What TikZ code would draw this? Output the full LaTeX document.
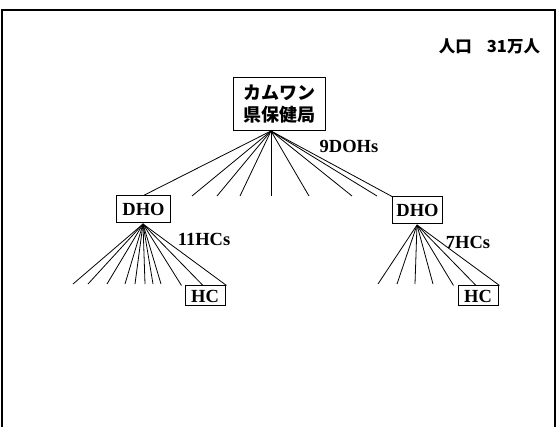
\documentclass[tikz,border=0pt]{standalone}
\usepackage{fontspec}
\setmainfont{Liberation Serif}
\newfontfamily\jpfont{Noto Sans CJK JP}
\usetikzlibrary{positioning}

\begin{document}
\begin{tikzpicture}[x=1pt, y=-1pt,
			office/.style={draw, line width=1pt, fill=white, inner sep=0pt, align=center, font=\bfseries\fontsize{18.5}{18.5}\selectfont},
			tag/.style={inner sep=0pt, font=\bfseries\fontsize{18.5}{18.5}\selectfont},
			edge/.style={line width=0.8pt}
		]
		\useasboundingbox (0,0) rectangle (558,427);
		% frame, open at the bottom
		\draw[line width=1.3pt] (2,427) -- (2,10) -- (555,10);
		\draw[line width=2.6pt] (555,9.4) -- (555,427);

		\node[inner sep=0pt, font=\jpfont\bfseries\fontsize{16.5}{16.5}\selectfont] (pop) at (489.5,46) {人口\hspace{15pt}31万人};

		\node[office, minimum width=92pt, minimum height=53pt, font=\jpfont\bfseries\fontsize{18}{22}\selectfont] (ken) at (279,104.5) {カムワン\\県保健局};
		\node[office, minimum width=54pt, minimum height=27pt] (dhoL) at (143.5,209.5) {DHO};
		\node[office, minimum width=50pt, minimum height=27pt] (dhoR) at (417.5,210.5) {DHO};
		\node[office, minimum width=40pt, minimum height=20pt] (hcL) [below right=62pt and 13.5pt of dhoL] {HC};
		\node[office, minimum width=40pt, minimum height=20pt] (hcR) [below right=61pt and 14.5pt of dhoR] {HC};

		\node[tag] (nDOH) at (349,146) {9DOHs};
		\node[tag] (nHCL) at (204,239) {11HCs};
		\node[tag] (nHCR) at (468,242) {7HCs};

		% hubs where the fans start
		\coordinate (hubK) at (271,131);
		\coordinate (hubL) at (143,224);
		\coordinate (hubR) at (417,225);

		% ends of the lines that lead to offices not drawn
		\foreach \x [count=\i] in {192,217,240,271,309,352,377}
			\coordinate (k\i) at (\x,196);
		\foreach \x [count=\i] in {73,88,107,125,135,145,153,161}
			\coordinate (l\i) at (\x,284);
		\foreach \x [count=\i] in {378,397,415,433}
			\coordinate (r\i) at (\x,284);

		\foreach \i in {1,...,7}
			\draw[edge] (hubK) -- (k\i);
		\foreach \i in {1,...,8}
			\draw[edge] (hubL) -- (l\i);
		\foreach \i in {1,...,4}
			\draw[edge] (hubR) -- (r\i);

		\draw[edge]
		(hubK) edge (dhoL.north)
		(hubK) edge (dhoR.north west)
		(hubL) edge ([xshift=-3pt]hcL.north west)
		(hubL) edge ([xshift=-2pt]hcL.north)
		(hubL) edge ([xshift=1pt]hcL.north east)
		(hubR) edge ([xshift=-4pt]hcR.north west)
		(hubR) edge ([xshift=-2pt]hcR.north)
		(hubR) edge ([xshift=1pt]hcR.north east)
		;
\end{tikzpicture}
\end{document}
